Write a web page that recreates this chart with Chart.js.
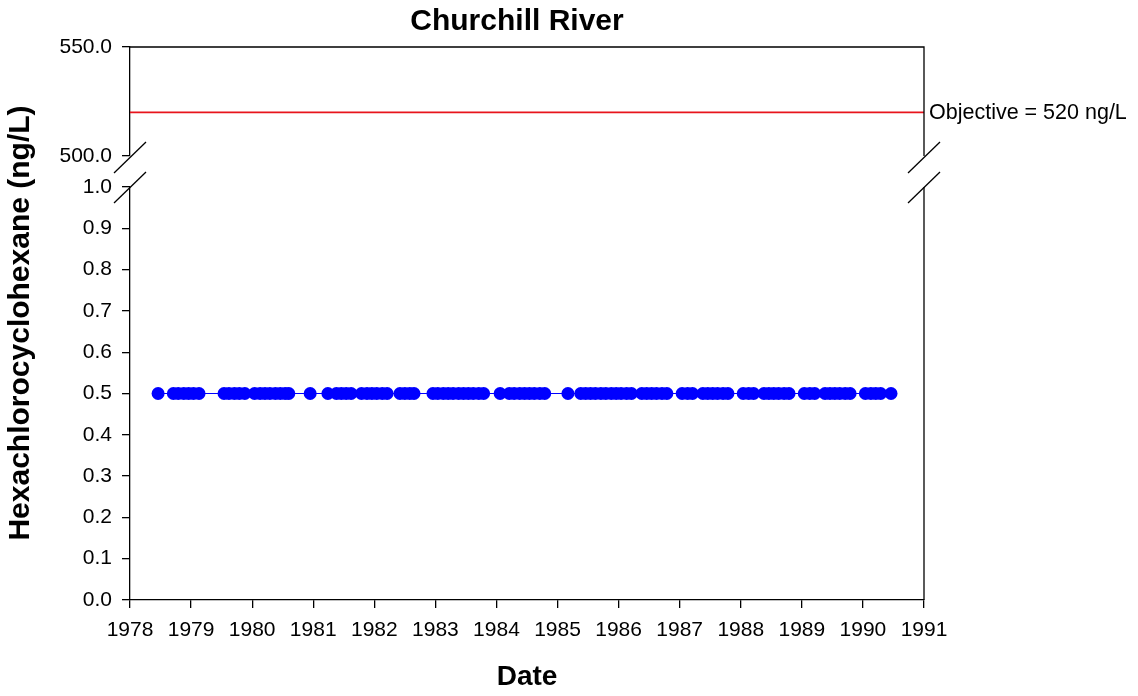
<!DOCTYPE html>
<html lang="en">
<head>
    <meta charset="UTF-8">
    <title>Churchill River</title>
    <script src="https://cdn.jsdelivr.net/npm/chart.js"></script>
    <style>
        body { margin: 0; background: #fff; }
        .wrap { position: relative; width: 1138px; height: 696px; }
        .wrap canvas { position: absolute; left: 0; top: 0; }
    </style>
</head>
<body>
    <div class="wrap">
        <canvas id="upper" width="1138" height="696"></canvas>
        <canvas id="lower" width="1138" height="696"></canvas>
    </div>

    <script>
    // sample dates (decimal years) and HCH results (ng/L)
    const sampleDates = [
        1978.46,
        1978.71, 1978.79, 1978.88, 1978.96, 1979.04, 1979.13,
        1979.54, 1979.62, 1979.71, 1979.79, 1979.88, 1980.04, 1980.13, 1980.21, 1980.29, 1980.38, 1980.46, 1980.54, 1980.60,
        1980.95,
        1981.24, 1981.38, 1981.46, 1981.54, 1981.62, 1981.79, 1981.88, 1981.96, 1982.04, 1982.13, 1982.21,
        1982.42, 1982.50, 1982.58, 1982.65,
        1982.96, 1983.04, 1983.13, 1983.21, 1983.29, 1983.38, 1983.46, 1983.54, 1983.62, 1983.71, 1983.79,
        1984.06, 1984.21, 1984.29, 1984.38, 1984.46, 1984.54, 1984.62, 1984.71, 1984.79,
        1985.17,
        1985.38, 1985.46, 1985.54, 1985.62, 1985.71, 1985.79, 1985.88, 1985.96, 1986.04, 1986.13, 1986.21, 1986.38, 1986.46,
        1986.54, 1986.62, 1986.71, 1986.79, 1987.04, 1987.13, 1987.21, 1987.38, 1987.46, 1987.54, 1987.62, 1987.71, 1987.79,
        1988.04, 1988.13, 1988.21, 1988.38, 1988.46, 1988.54, 1988.62, 1988.71, 1988.79,
        1989.04, 1989.13, 1989.21, 1989.38, 1989.46, 1989.54, 1989.62, 1989.71, 1989.79,
        1990.04, 1990.13, 1990.21, 1990.29,
        1990.46
    ];
    const hchValues = [
        0.5,
        0.5, 0.5, 0.5, 0.5, 0.5, 0.5,
        0.5, 0.5, 0.5, 0.5, 0.5, 0.5, 0.5, 0.5, 0.5, 0.5, 0.5, 0.5, 0.5,
        0.5,
        0.5, 0.5, 0.5, 0.5, 0.5, 0.5, 0.5, 0.5, 0.5, 0.5, 0.5,
        0.5, 0.5, 0.5, 0.5,
        0.5, 0.5, 0.5, 0.5, 0.5, 0.5, 0.5, 0.5, 0.5, 0.5, 0.5,
        0.5, 0.5, 0.5, 0.5, 0.5, 0.5, 0.5, 0.5, 0.5,
        0.5,
        0.5, 0.5, 0.5, 0.5, 0.5, 0.5, 0.5, 0.5, 0.5, 0.5, 0.5, 0.5, 0.5,
        0.5, 0.5, 0.5, 0.5, 0.5, 0.5, 0.5, 0.5, 0.5, 0.5, 0.5, 0.5, 0.5,
        0.5, 0.5, 0.5, 0.5, 0.5, 0.5, 0.5, 0.5, 0.5,
        0.5, 0.5, 0.5, 0.5, 0.5, 0.5, 0.5, 0.5, 0.5,
        0.5, 0.5, 0.5, 0.5,
        0.5
    ];
    const objectiveDates = [1978, 1991];
    const objectiveValues = [520, 520];
    const objectiveLabel = 'Objective = 520 ng/L';
    const xRange = [1978, 1991];
    const upperRange = [500, 550];
    const lowerRange = [0, 1];

    const FONT = 'Liberation Sans, Arial, sans-serif';
    const W = 1138, H = 696;
    const plotLeft = 130, plotRight = 924;

    function fixWidth(scale) { scale.width = plotLeft; }

    function breakMark(ctx, x, y) {
        ctx.beginPath();
        ctx.moveTo(x - 16, y + 16);
        ctx.lineTo(x + 16, y - 15);
        ctx.stroke();
    }

    // frame + break marks for the upper panel, objective label and title
    const upperDeco = {
        id: 'upperDeco',
        afterDraw(chart) {
            const a = chart.chartArea, ctx = chart.ctx;
            const yObj = chart.scales.y.getPixelForValue(objectiveValues[0]);
            ctx.save();
            ctx.strokeStyle = '#000';
            ctx.lineWidth = 1.3;
            ctx.beginPath();
            ctx.moveTo(a.left, a.top);
            ctx.lineTo(a.right, a.top);
            ctx.lineTo(a.right, a.bottom);
            ctx.stroke();
            breakMark(ctx, a.left, a.bottom + 1);
            breakMark(ctx, a.right, a.bottom + 1);
            ctx.fillStyle = '#000';
            ctx.font = '21.5px ' + FONT;
            ctx.textAlign = 'left';
            ctx.textBaseline = 'middle';
            ctx.fillText(objectiveLabel, a.right + 5, yObj + 1);
            ctx.font = 'bold 30px ' + FONT;
            ctx.textAlign = 'center';
            ctx.fillText('Churchill River', (a.left + a.right) / 2 - 10, 22);
            ctx.restore();
        }
    };

    const lowerDeco = {
        id: 'lowerDeco',
        afterDraw(chart) {
            const a = chart.chartArea, ctx = chart.ctx;
            ctx.save();
            ctx.strokeStyle = '#000';
            ctx.lineWidth = 1.3;
            ctx.beginPath();
            ctx.moveTo(a.right, a.top);
            ctx.lineTo(a.right, a.bottom);
            ctx.stroke();
            breakMark(ctx, a.left, a.top);
            breakMark(ctx, a.right, a.top);
            ctx.fillStyle = '#000';
            ctx.font = 'bold 28px ' + FONT;
            ctx.textAlign = 'center';
            ctx.textBaseline = 'middle';
            ctx.fillText('Date', (a.left + a.right) / 2, 677);
            ctx.font = 'bold 30px ' + FONT;
            ctx.translate(21, 323);
            ctx.rotate(-Math.PI / 2);
            ctx.fillText('Hexachlorocyclohexane (ng/L)', 0, 0);
            ctx.restore();
        }
    };

    const tickFont = { family: FONT, size: 21 };

    new Chart(document.getElementById('upper'), {
        type: 'line',
        data: {
            datasets: [{
                data: objectiveDates.map((d, i) => ({ x: d, y: objectiveValues[i] })),
                borderColor: '#e8141c',
                borderWidth: 1.6,
                pointRadius: 0,
                fill: false
            }]
        },
        options: {
            responsive: false,
            animation: false,
            devicePixelRatio: 1,
            layout: { padding: { left: 0, right: W - plotRight, top: 47, bottom: H - 156 } },
            plugins: { legend: { display: false }, tooltip: { enabled: false } },
            scales: {
                x: { type: 'linear', min: xRange[0], max: xRange[1], display: false },
                y: {
                    min: upperRange[0], max: upperRange[1],
                    afterFit: fixWidth,
                    border: { color: '#000', width: 1.3 },
                    grid: { drawOnChartArea: false, color: '#000', tickLength: 8, lineWidth: 1.3 },
                    ticks: {
                        stepSize: 50, color: '#000', font: tickFont, padding: 10,
                        callback: v => v.toFixed(1)
                    }
                }
            }
        },
        plugins: [upperDeco]
    });

    new Chart(document.getElementById('lower'), {
        type: 'line',
        data: {
            datasets: [{
                data: sampleDates.map((d, i) => ({ x: d, y: hchValues[i] })),
                borderColor: '#0000ff',
                borderWidth: 1,
                pointRadius: 6.5,
                pointBackgroundColor: '#0000ff',
                pointBorderWidth: 0,
                fill: false
            }]
        },
        options: {
            responsive: false,
            animation: false,
            devicePixelRatio: 1,
            layout: { padding: { left: 0, right: W - plotRight, top: 187, bottom: 0 } },
            plugins: { legend: { display: false }, tooltip: { enabled: false } },
            scales: {
                x: {
                    type: 'linear', min: xRange[0], max: xRange[1],
                    afterFit: s => { s.height = H - 600; },
                    border: { color: '#000', width: 1.3 },
                    grid: { drawOnChartArea: false, color: '#000', tickLength: 8, lineWidth: 1.3 },
                    ticks: {
                        stepSize: 1, color: '#000', font: tickFont, padding: 10, maxRotation: 0,
                        callback: v => String(v)
                    }
                },
                y: {
                    min: lowerRange[0], max: lowerRange[1],
                    afterFit: fixWidth,
                    border: { color: '#000', width: 1.3 },
                    grid: { drawOnChartArea: false, color: '#000', tickLength: 8, lineWidth: 1.3 },
                    ticks: {
                        stepSize: 0.1, color: '#000', font: tickFont, padding: 10,
                        callback: v => v.toFixed(1)
                    }
                }
            }
        },
        plugins: [lowerDeco]
    });
    </script>
</body>
</html>
